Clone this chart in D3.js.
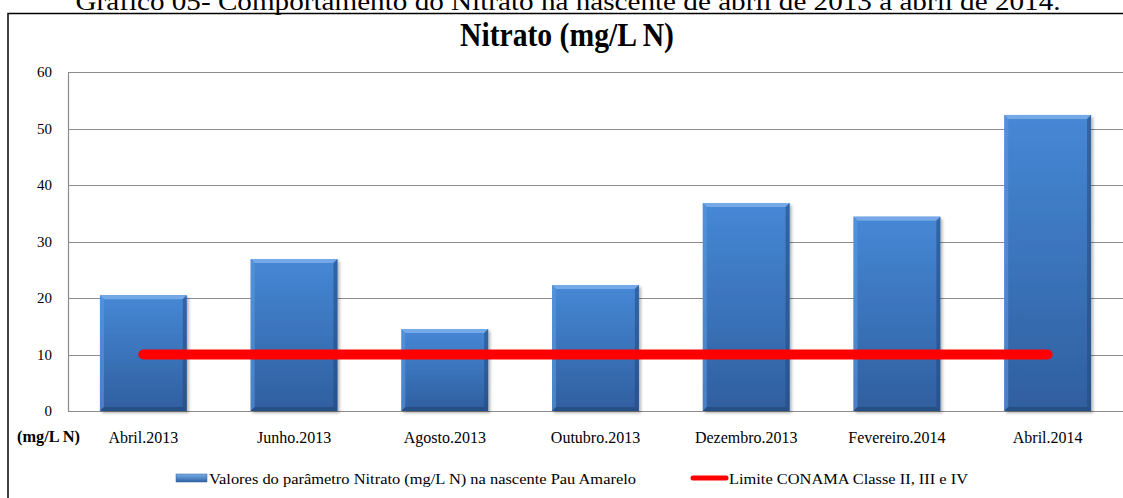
<!DOCTYPE html>
<html><head><meta charset="utf-8">
<script src="https://cdn.jsdelivr.net/npm/d3@7"></script>
<style>
html,body{margin:0;padding:0;background:#fff;}
svg{display:block;}
text{font-family:"Liberation Serif","Times New Roman",serif;fill:#000;}
</style></head>
<body>
<svg id="c" width="1123" height="498"></svg>
<script>
const categories = ["Abril.2013","Junho.2013","Agosto.2013","Outubro.2013","Dezembro.2013","Fevereiro.2014","Abril.2014"];
const nitrato = [20.5, 26.9, 14.5, 22.3, 36.8, 34.4, 52.4];
const limite = [10, 10, 10, 10, 10, 10, 10];
const yTicks = [0, 10, 20, 30, 40, 50, 60];
const caption = "Gráfico 05- Comportamento do Nitrato na nascente de abril de 2013 a abril de 2014.";
const title = "Nitrato (mg/L N)";
const unitLabel = "(mg/L N)";
const legendBar = "Valores do parâmetro Nitrato (mg/L N) na nascente Pau Amarelo";
const legendLine = "Limite CONAMA Classe II, III e IV";

const svg = d3.select("#c");
const plot = {left: 68, right: 1123, top: 72, bottom: 411};

const x = d3.scaleBand().domain(categories).range([plot.left, plot.right]).paddingInner(0.424).paddingOuter(0.212);
const y = d3.scaleLinear().domain([0, 60]).range([plot.bottom, plot.top]);

const defs = svg.append("defs");
const g1 = defs.append("linearGradient").attr("id","barGrad").attr("x1",0).attr("y1",0).attr("x2",0).attr("y2",1);
g1.append("stop").attr("offset","0%").attr("stop-color","#4688d6");
g1.append("stop").attr("offset","100%").attr("stop-color","#2f5f9f");
const g2 = defs.append("linearGradient").attr("id","legGrad").attr("x1",0).attr("y1",0).attr("x2",0).attr("y2",1);
g2.append("stop").attr("offset","0%").attr("stop-color","#7aaee8");
g2.append("stop").attr("offset","100%").attr("stop-color","#2f62a6");
const f = defs.append("filter").attr("id","shadow").attr("x","-10%").attr("y","-10%").attr("width","130%").attr("height","130%");
f.append("feDropShadow").attr("dx",2).attr("dy",2).attr("stdDeviation",1.5).attr("flood-color","#000").attr("flood-opacity",0.3);

// caption (partially cut at top)
svg.append("text").attr("x", 568).attr("y", 10).attr("text-anchor","middle")
  .attr("font-size", 25).attr("textLength", 985).attr("lengthAdjust","spacingAndGlyphs").text(caption);

// frame
svg.append("rect").attr("x", 8).attr("y", 13.5).attr("width", 1130).attr("height", 500)
  .attr("fill","none").attr("stroke","#000").attr("stroke-width",1.5);

// title
svg.append("text").attr("x", 567).attr("y", 46).attr("text-anchor","middle")
  .attr("font-size", 34).attr("font-weight","bold")
  .attr("textLength", 214).attr("lengthAdjust","spacingAndGlyphs").text(title);

// gridlines
svg.append("g").selectAll("line").data(yTicks.filter(d => d > 0)).join("line")
  .attr("x1", plot.left).attr("x2", plot.right)
  .attr("y1", d => Math.round(y(d)) + 0.5).attr("y2", d => Math.round(y(d)) + 0.5)
  .attr("stroke","#8c8c8c").attr("stroke-width",1.2);

// y axis
const yAxis = d3.axisLeft(y).tickValues(yTicks).tickSize(0).tickPadding(16);
const ya = svg.append("g").attr("transform", `translate(${plot.left},0)`).call(yAxis);
ya.select(".domain").attr("stroke","#8c8c8c").attr("stroke-width",1.2);
ya.selectAll("text").attr("font-family","Liberation Serif, serif").attr("font-size",15).attr("fill","#000");

// x baseline
svg.append("line").attr("x1", plot.left).attr("x2", plot.right)
  .attr("y1", y(0)+0.5).attr("y2", y(0)+0.5).attr("stroke","#8c8c8c").attr("stroke-width",1.2);

// bars
const bars = svg.append("g").selectAll("g").data(categories.map((c,i)=>({c, v: nitrato[i]}))).join("g");
bars.append("rect").attr("x", d => x(d.c)).attr("y", d => y(d.v))
  .attr("width", x.bandwidth()).attr("height", d => y(0) - y(d.v))
  .attr("fill","url(#barGrad)").attr("filter","url(#shadow)");
bars.append("path").attr("d", d => {
  const x0 = x(d.c), x1 = x0 + x.bandwidth(), t = y(d.v), b = 4;
  return `M${x0},${t}L${x1},${t}L${x1-b},${t+b}L${x0+b},${t+b}Z`;
}).attr("fill","#7fb0ea").attr("opacity",0.8);
bars.append("path").attr("d", d => {
  const x0 = x(d.c), t = y(d.v), bt = y(0), b = 4;
  return `M${x0},${t}L${x0+b},${t+b}L${x0+b},${bt-b}L${x0},${bt}Z`;
}).attr("fill","#5a98de").attr("opacity",0.6);
bars.append("path").attr("d", d => {
  const x1 = x(d.c) + x.bandwidth(), t = y(d.v), bt = y(0), b = 4;
  return `M${x1},${t}L${x1},${bt}L${x1-b},${bt-b}L${x1-b},${t+b}Z`;
}).attr("fill","#21497e").attr("opacity",0.55);
bars.append("path").attr("d", d => {
  const x0 = x(d.c), x1 = x0 + x.bandwidth(), bt = y(0), b = 4;
  return `M${x0},${bt}L${x1},${bt}L${x1-b},${bt-b}L${x0+b},${bt-b}Z`;
}).attr("fill","#1f4575").attr("opacity",0.6);

// limit line
const line = d3.line().x((d,i) => x(categories[i]) + x.bandwidth()/2).y(d => y(d));
svg.append("path").datum(limite).attr("d", line)
  .attr("fill","none").attr("stroke","#ff0000").attr("stroke-width",10).attr("stroke-linecap","round");

// x labels
svg.append("g").selectAll("text").data(categories).join("text")
  .attr("x", d => x(d) + x.bandwidth()/2).attr("y", 443).attr("text-anchor","middle")
  .attr("font-size", 16).text(d => d);

svg.append("text").attr("x", 17).attr("y", 442).attr("font-size", 16).attr("font-weight","bold")
  .attr("textLength", 63).attr("lengthAdjust","spacingAndGlyphs").text(unitLabel);

// legend
svg.append("rect").attr("x", 176).attr("y", 474).attr("width", 31).attr("height", 8)
  .attr("fill","url(#legGrad)").attr("stroke","#2f5f9f").attr("stroke-width",0.5);
svg.append("text").attr("x", 209).attr("y", 484).attr("font-size", 15)
  .attr("textLength", 427).attr("lengthAdjust","spacingAndGlyphs").text(legendBar);
svg.append("line").attr("x1", 693).attr("x2", 726).attr("y1", 478).attr("y2", 478)
  .attr("stroke","#ff0000").attr("stroke-width",5).attr("stroke-linecap","round");
svg.append("text").attr("x", 729).attr("y", 484).attr("font-size", 15)
  .attr("textLength", 239).attr("lengthAdjust","spacingAndGlyphs").text(legendLine);
</script>
</body></html>
